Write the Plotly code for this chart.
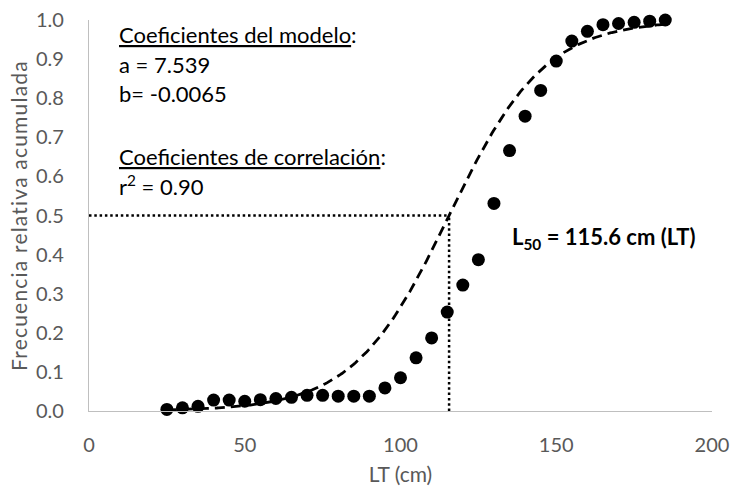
import numpy as np
import plotly.graph_objects as go

# Observed cumulative relative frequency by total length (LT, cm)
lt_cm = [25, 30, 35, 40, 45, 50, 55, 60, 65, 70, 75, 80, 85, 90, 95, 100, 105,
         110, 115, 120, 125, 130, 135, 140, 145, 150, 155, 160, 165, 170, 175,
         180, 185]
freq_acum = [0.004, 0.008, 0.012, 0.028, 0.028, 0.025, 0.029, 0.032, 0.035,
             0.040, 0.040, 0.038, 0.038, 0.038, 0.059, 0.085, 0.136, 0.187,
             0.253, 0.322, 0.387, 0.531, 0.666, 0.754, 0.820, 0.895, 0.946,
             0.971, 0.988, 0.991, 0.994, 0.997, 1.000]

# Logistic model coefficients
a = 7.539
L50 = 115.6
b_label = "-0.0065"
r2 = 0.90
b = -a / L50  # slope implied by a and L50

x_ticks = [0, 50, 100, 150, 200]
y_ticks = [0.0, 0.1, 0.2, 0.3, 0.4, 0.5, 0.6, 0.7, 0.8, 0.9, 1.0]

model_x = np.linspace(min(lt_cm), max(lt_cm), 300)
model_y = 1.0 / (1.0 + np.exp(a + b * model_x))

FONT = "Lato"
GRAY = "#595959"

fig = go.Figure()

# L50 reference lines
fig.add_trace(go.Scatter(x=[0, L50], y=[0.5, 0.5], mode="lines",
                         line=dict(color="black", width=2.5, dash="2.5px,2.8px"),
                         hoverinfo="skip", showlegend=False))
fig.add_trace(go.Scatter(x=[L50, L50], y=[0, 0.5], mode="lines",
                         line=dict(color="black", width=2.5, dash="2.5px,2.8px"),
                         hoverinfo="skip", showlegend=False))

# Fitted logistic curve
fig.add_trace(go.Scatter(x=model_x, y=model_y, mode="lines",
                         line=dict(color="black", width=2.8, dash="10px,6px"),
                         hoverinfo="skip", showlegend=False))

# Observed points
fig.add_trace(go.Scatter(x=lt_cm, y=freq_acum, mode="markers",
                         marker=dict(color="black", size=13),
                         cliponaxis=False, showlegend=False))

def note(x, y, text):
    fig.add_annotation(x=x, y=y, xref="x", yref="y", text=text,
                       showarrow=False, xanchor="left", yanchor="middle",
                       font=dict(family=FONT, size=22, color="black"))

UL = "<span style='text-decoration:underline'>{}</span>"
note(9.0, 0.962, UL.format("Coeficientes del modelo") + ":")
note(9.0, 0.885, f"a = {a:.3f}")
note(9.0, 0.813, f"b= {b_label}")
note(9.0, 0.650, UL.format("Coeficientes de correlación") + ":")
note(9.0, 0.578, f"r<sup>2</sup> = {r2:.2f}")
note(135.0, 0.442, f"<b>L<sub>50</sub> = {L50} cm (LT)</b>")

fig.update_layout(
    width=730, height=491,
    margin=dict(l=89, r=18, t=20, b=80),
    paper_bgcolor="white", plot_bgcolor="white",
    font=dict(family=FONT, color=GRAY),
)
fig.update_xaxes(
    range=[0, 200], tickvals=x_ticks, ticktext=[str(v) for v in x_ticks],
    showgrid=False, zeroline=False, showline=True, linecolor="#bfbfbf",
    linewidth=1.3, ticks="", ticklabelstandoff=16, automargin=False,
    tickfont=dict(family=FONT, size=20, color=GRAY),
    title=dict(text="LT (cm)", font=dict(family=FONT, size=21, color=GRAY),
               standoff=12),
)
fig.update_yaxes(
    range=[0, 1], tickvals=y_ticks, ticktext=[f"{v:.1f}" for v in y_ticks],
    showgrid=False, zeroline=False, showline=True, linecolor="#bfbfbf",
    linewidth=1.3, ticks="", ticklabelstandoff=20, automargin=False,
    tickfont=dict(family=FONT, size=20, color=GRAY),
    title=dict(text="<span style='letter-spacing:1.2px'>"
                    "Frecuencia relativa acumulada</span>",
               font=dict(family=FONT, size=21, color=GRAY), standoff=2),
)

fig.write_html("out.html")
